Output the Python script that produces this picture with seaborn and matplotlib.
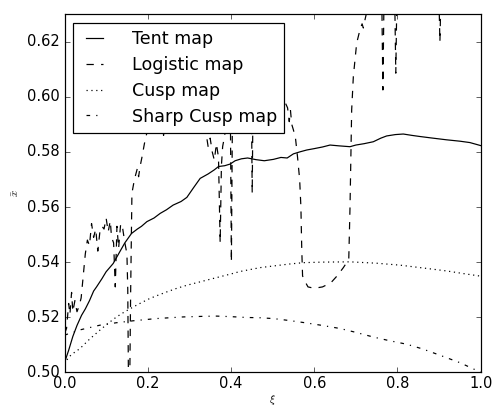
import matplotlib
matplotlib.use("Agg")
import matplotlib.pyplot as plt
import seaborn as sns
import pandas as pd

# ---- data ----
tent_x = [0.000, 0.010, 0.020, 0.030, 0.041, 0.050, 0.060, 0.070, 0.077, 0.090, 0.100, 0.117,
          0.130, 0.145, 0.161, 0.175, 0.185, 0.198, 0.215, 0.230, 0.245, 0.261, 0.280, 0.294,
          0.310, 0.326, 0.345, 0.360, 0.370, 0.385, 0.398, 0.410, 0.425, 0.440, 0.460, 0.480,
          0.502, 0.520, 0.535, 0.550, 0.565, 0.582, 0.600, 0.620, 0.638, 0.660, 0.686, 0.700,
          0.720, 0.742, 0.760, 0.774, 0.795, 0.814, 0.835, 0.854, 0.880, 0.918, 0.950, 0.974, 1.000]
tent_y = [0.5035, 0.5080, 0.5130, 0.5170, 0.5207, 0.5230, 0.5260, 0.5295, 0.5310, 0.5340, 0.5365, 0.5395,
          0.5430, 0.5470, 0.5504, 0.5520, 0.5530, 0.5547, 0.5560, 0.5577, 0.5590, 0.5607, 0.5620, 0.5635,
          0.5670, 0.5704, 0.5720, 0.5735, 0.5747, 0.5750, 0.5756, 0.5768, 0.5775, 0.5778, 0.5772, 0.5768,
          0.5773, 0.5780, 0.5778, 0.5793, 0.5800, 0.5807, 0.5812, 0.5818, 0.5825, 0.5822, 0.5819, 0.5825,
          0.5830, 0.5837, 0.5850, 0.5858, 0.5863, 0.5865, 0.5860, 0.5856, 0.5851, 0.5844, 0.5839, 0.5834, 0.5823]

logistic_x = [0.000, 0.005, 0.010, 0.013, 0.017, 0.020, 0.025, 0.030, 0.035, 0.040, 0.045, 0.050,
              0.055, 0.060, 0.065, 0.070, 0.075, 0.080, 0.085, 0.090, 0.095, 0.100, 0.105, 0.110,
              0.113, 0.118, 0.122, 0.126, 0.130, 0.135, 0.140, 0.145, 0.150, 0.152, 0.155, 0.159,
              0.162, 0.168, 0.175, 0.178, 0.182, 0.186, 0.192, 0.198, 0.205, 0.220, 0.232, 0.238,
              0.244, 0.280, 0.320, 0.335, 0.340, 0.345, 0.350, 0.355, 0.360, 0.365, 0.370, 0.374,
              0.377, 0.380, 0.385, 0.392, 0.398, 0.401, 0.404, 0.420, 0.440, 0.449, 0.451, 0.453,
              0.500, 0.530, 0.536, 0.540, 0.543, 0.546, 0.550, 0.555, 0.560, 0.565, 0.568, 0.570,
              0.572, 0.576, 0.585, 0.600, 0.620, 0.640, 0.655, 0.670, 0.683, 0.686, 0.690, 0.694,
              0.702, 0.710, 0.715, 0.718, 0.722, 0.728, 0.740, 0.762, 0.765, 0.768, 0.793, 0.796,
              0.799, 0.850, 0.899, 0.902, 0.905, 1.000]
logistic_y = [0.514, 0.516, 0.525, 0.521, 0.529, 0.522, 0.526, 0.522, 0.524, 0.527, 0.535, 0.543,
              0.548, 0.546, 0.554, 0.549, 0.552, 0.544, 0.551, 0.553, 0.552, 0.556, 0.551, 0.555,
              0.549, 0.547, 0.531, 0.553, 0.545, 0.554, 0.552, 0.547, 0.543, 0.530, 0.470, 0.530,
              0.565, 0.570, 0.574, 0.571, 0.575, 0.578, 0.583, 0.587, 0.600, 0.610, 0.600, 0.586,
              0.600, 0.612, 0.605, 0.600, 0.587, 0.582, 0.585, 0.580, 0.577, 0.583, 0.578, 0.547,
              0.575, 0.582, 0.586, 0.600, 0.605, 0.540, 0.605, 0.612, 0.605, 0.600, 0.565, 0.600,
              0.610, 0.598, 0.596, 0.591, 0.595, 0.590, 0.588, 0.585, 0.578, 0.570, 0.560, 0.545,
              0.535, 0.5335, 0.531, 0.5305, 0.531, 0.5325, 0.535, 0.538, 0.541, 0.560, 0.5953, 0.6074,
              0.6195, 0.6244, 0.6265, 0.625, 0.628, 0.632, 0.640, 0.640, 0.6025, 0.640, 0.640, 0.6086,
              0.640, 0.640, 0.640, 0.620, 0.640, 0.640]

cusp_x = [0.000, 0.010, 0.020, 0.037, 0.060, 0.085, 0.105, 0.125, 0.145, 0.165, 0.185, 0.205,
          0.225, 0.246, 0.270, 0.294, 0.330, 0.366, 0.400, 0.422, 0.446, 0.470, 0.502, 0.540,
          0.574, 0.620, 0.686, 0.750, 0.806, 0.860, 0.918, 0.960, 1.000]
cusp_y = [0.5030, 0.5055, 0.5068, 0.5086, 0.5120, 0.5153, 0.5178, 0.5201, 0.5220, 0.5237, 0.5253, 0.5268,
          0.5280, 0.5292, 0.5305, 0.5316, 0.5330, 0.5344, 0.5357, 0.5366, 0.5373, 0.5380, 0.5386, 0.5393,
          0.5398, 0.5400, 0.5401, 0.5396, 0.5389, 0.5379, 0.5368, 0.5358, 0.5349]

sharp_x = [0.000, 0.040, 0.085, 0.125, 0.165, 0.220, 0.285, 0.330, 0.366, 0.400, 0.438, 0.470,
           0.502, 0.540, 0.582, 0.620, 0.662, 0.700, 0.742, 0.780, 0.822, 0.860, 0.902, 0.950, 1.000]
sharp_y = [0.5135, 0.5155, 0.5171, 0.5180, 0.5187, 0.5195, 0.5201, 0.5203, 0.5204, 0.5202, 0.5199, 0.5198,
           0.5195, 0.5188, 0.5179, 0.5170, 0.5159, 0.5145, 0.5128, 0.5115, 0.5102, 0.5085, 0.5062, 0.5035, 0.5000]

series_names = ["Tent map", "Logistic map", "Cusp map", "Sharp Cusp map"]
x_ticks = [0.0, 0.2, 0.4, 0.6, 0.8, 1.0]
y_ticks = [0.50, 0.52, 0.54, 0.56, 0.58, 0.60, 0.62]

# ---- plot ----
plt.style.use("classic")
DPI = 87.5
fig = plt.figure(figsize=(494 / DPI, 408 / DPI), dpi=DPI, facecolor="white")
ax = fig.add_axes([64.5 / 494, (408 - 372.3) / 408, (480.7 - 64.5) / 494, (372.3 - 14.2) / 408])

datasets = [(tent_x, tent_y, "-"), (logistic_x, logistic_y, "--"),
            (cusp_x, cusp_y, ":"), (sharp_x, sharp_y, "-.")]
for (xs, ys, ls), name in zip(datasets, series_names):
    df = pd.DataFrame({"xi": xs, "xbar": ys})
    sns.lineplot(data=df, x="xi", y="xbar", ax=ax, color="k", linestyle=ls,
                 linewidth=1.0, estimator=None, sort=False, label=name)

ax.set_xlim(0.0, 1.0)
ax.set_ylim(0.50, 0.63)
ax.set_xticks(x_ticks)
ax.set_yticks(y_ticks)
ax.set_xticklabels(["%.1f" % v for v in x_ticks])
ax.set_yticklabels(["%.2f" % v for v in y_ticks])
ax.tick_params(labelsize=12)
ax.tick_params(axis="x", pad=3)
ax.set_xlabel(r"$\xi$", fontsize=9, labelpad=2)
ax.set_ylabel(r"$\bar{x}$", fontsize=9)

leg = ax.legend(loc="upper left", fontsize=14.4, handlelength=1.6, handletextpad=1.35,
                borderpad=0.4, labelspacing=0.45, frameon=True, fancybox=False)
leg.get_frame().set_edgecolor("k")

fig.savefig("out.png", dpi=DPI, facecolor="white")
